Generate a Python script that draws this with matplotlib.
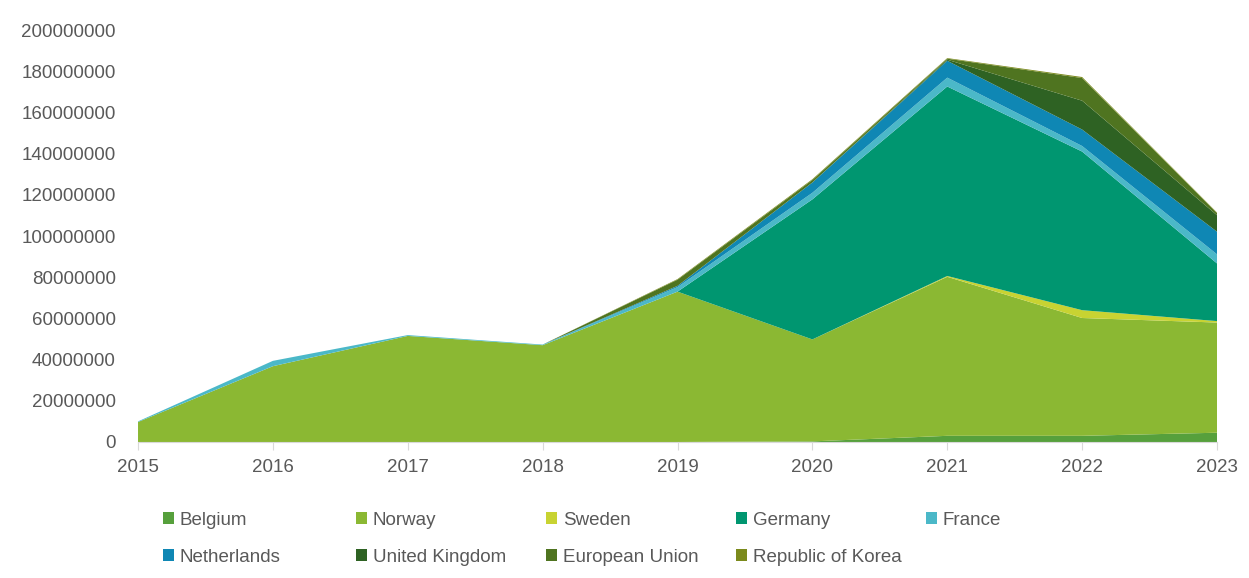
import matplotlib.pyplot as plt
import numpy as np

plt.rcParams["font.family"] = ["Liberation Sans", "DejaVu Sans"]

years = [2015, 2016, 2017, 2018, 2019, 2020, 2021, 2022, 2023]

# values in millions
belgium = [0, 0, 0, 0, 0, 0.3, 3, 3, 4.5]
norway = [9.7, 36.8, 51.5, 47, 73, 49.5, 77.2, 57.2, 53.5]
sweden = [0, 0, 0, 0, 0, 0, 0.4, 3.8, 0.7]
germany = [0, 0, 0, 0, 0, 68, 92, 77, 28]
france = [0.3, 2.6, 0.4, 0.3, 2.2, 3.2, 4.3, 2.7, 4.4]
netherlands = [0, 0, 0, 0, 0.6, 5, 8.2, 8, 11]
united_kingdom = [0, 0, 0, 0, 0, 0, 0.5, 14, 8]
european_union = [0, 0, 0, 0, 3, 1.2, 0.5, 11, 1]
korea = [0, 0, 0, 0, 0.3, 0.4, 0.3, 0.5, 0.3]

labels = ["Belgium", "Norway", "Sweden", "Germany", "France",
          "Netherlands", "United Kingdom", "European Union", "Republic of Korea"]
colors = ["#56a03c", "#8bb833", "#c8d332", "#009670", "#4bb8c8",
          "#0f87b4", "#2e6223", "#4f7420", "#7b8a1c"]

series = [belgium, norway, sweden, germany, france,
          netherlands, united_kingdom, european_union, korea]
values = [np.array(s) * 1e6 for s in series]

fig = plt.figure(figsize=(12.49, 5.78), dpi=100)
ax = fig.add_axes([0.1105, 0.2353, 0.8639, 0.7127])

polys = ax.stackplot(years, *values, colors=colors, labels=labels, linewidth=0)

ax.set_xlim(2015, 2023)
ax.set_ylim(0, 200e6)
ax.set_yticks(np.arange(0, 200e6 + 1, 20e6))
ax.set_yticklabels([f"{int(v)}" for v in np.arange(0, 200e6 + 1, 20e6)])
ax.set_xticks(years)

for side in ["left", "right", "top"]:
    ax.spines[side].set_visible(False)
ax.spines["bottom"].set_color("#d9d9d9")
ax.tick_params(axis="y", length=0, pad=16, labelsize=13.5, labelcolor="#595959")
ax.tick_params(axis="x", length=6, color="#d9d9d9", pad=6, labelsize=13.5,
               labelcolor="#595959")

# legend: one small legend per column so columns sit at fixed spots
col_x = [163, 356, 546, 736, 926]
order = [[0, 5], [1, 6], [2, 7], [3, 8], [4]]
for cx, idx in zip(col_x, order):
    leg = fig.legend([polys[i] for i in idx], [labels[i] for i in idx],
                     loc="upper left", bbox_to_anchor=(cx / 1249, 1 - 512 / 578),
                     frameon=False, fontsize=13.5, handlelength=0.6,
                     handleheight=0.6, handletextpad=0.3, labelspacing=1.05,
                     borderaxespad=0, borderpad=0)
    for t in leg.get_texts():
        t.set_color("#595959")

fig.savefig("out.png", dpi=100)
